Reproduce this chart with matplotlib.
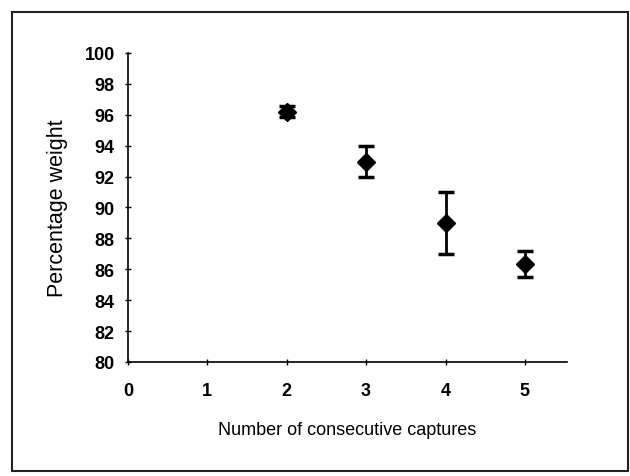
import matplotlib
matplotlib.use("Agg")
import matplotlib.pyplot as plt
from matplotlib.patches import Rectangle

# data
captures = [2, 3, 4, 5]
weight = [96.2, 92.95, 89.0, 86.35]
err = [0.35, 1.0, 2.0, 0.85]
xticks = [0, 1, 2, 3, 4, 5]
yticks = [80, 82, 84, 86, 88, 90, 92, 94, 96, 98, 100]

plt.rcParams['font.family'] = ['Liberation Sans', 'DejaVu Sans']

fig = plt.figure(figsize=(6.3, 4.77), dpi=100)
ax = fig.add_axes([0.203, 0.239, 0.697, 0.648])

ax.errorbar(captures, weight, yerr=err, fmt='D', color='black', ms=9,
            ecolor='black', elinewidth=2, capsize=6, capthick=2.5)

ax.set_xlim(0, 5.53)
ax.set_ylim(80, 100)
ax.set_xticks(xticks)
ax.set_yticks(yticks)
ax.tick_params(direction='inout', length=5, width=1, labelsize=13)
ax.tick_params(axis='x', pad=12)
ax.tick_params(axis='y', pad=7)
for lbl in ax.get_xticklabels() + ax.get_yticklabels():
    lbl.set_fontweight('bold')
ax.spines['top'].set_visible(False)
ax.spines['right'].set_visible(False)
for sp in ('left', 'bottom'):
    ax.spines[sp].set_linewidth(1.2)

ax.set_xlabel('Number of consecutive captures', fontsize=13, labelpad=16)
ax.set_ylabel('Percentage weight', fontsize=15.5, labelpad=12)

# outer frame of the chart area
fig.patches.append(Rectangle((0.019, 0.01), 0.978, 0.963, transform=fig.transFigure,
                             fill=False, edgecolor='#222222', linewidth=1.5))

fig.savefig('out.png', dpi=100)
